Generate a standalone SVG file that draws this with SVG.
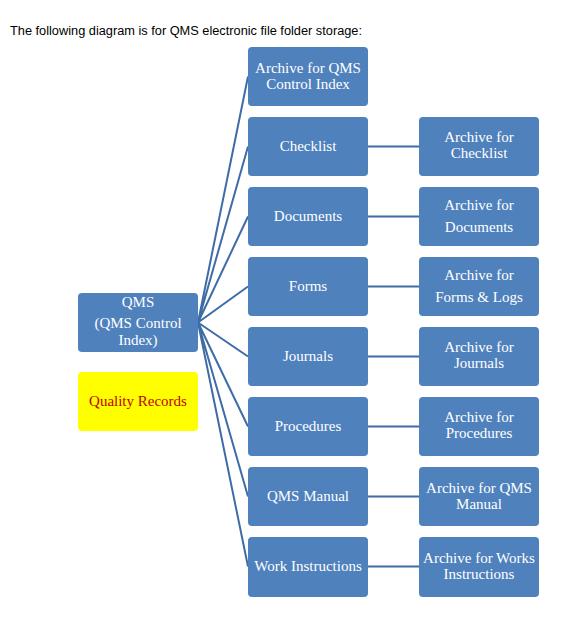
<svg xmlns="http://www.w3.org/2000/svg" width="570" height="626" viewBox="0 0 570 626">
<style>
.box{fill:#4F81BD;}
.qr{fill:#FFFF00;}
.t{font-family:"Liberation Serif","DejaVu Serif",serif;font-size:15px;fill:#FFFFFF;text-anchor:middle;}
.tr{font-family:"Liberation Serif","DejaVu Serif",serif;font-size:15px;fill:#C00000;text-anchor:middle;}
.title{font-family:"Liberation Sans","Open Sans",sans-serif;font-size:12.5px;fill:#000000;}
.c{stroke:#3D6CA6;stroke-width:2;fill:none;}
</style>
<rect width="570" height="626" fill="#FFFFFF"/>
<text class="title" x="10" y="35" textLength="352" lengthAdjust="spacingAndGlyphs">The following diagram is for QMS electronic file folder storage:</text>
<g id="connectors">
<path class="c" d="M198,322.5 L248,76.5 M198,322.5 L248,146.5 M198,322.5 L248,216.5 M198,322.5 L248,286.5 M198,322.5 L248,356.5 M198,322.5 L248,426.5 M198,322.5 L248,496.5 M198,322.5 L248,566.5"/>
<path class="c" d="M368,146.5 H419 M368,216.5 H419 M368,286.5 H419 M368,356.5 H419 M368,426.5 H419 M368,496.5 H419 M368,566.5 H419"/>
</g>
<g id="qms"><rect class="box" x="78" y="293" width="120" height="59" rx="4"/>
<text class="t" x="138" y="307">QMS</text><text class="t" x="138" y="328">(QMS Control</text><text class="t" x="138" y="345">Index)</text></g>
<g id="quality-records"><rect class="qr" x="78" y="372" width="120" height="59" rx="4"/>
<text class="tr" x="138" y="406">Quality Records</text></g>
<g id="archive-qms-control-index"><rect class="box" x="248" y="47" width="120" height="59" rx="4"/>
<text class="t" x="308" y="73">Archive for QMS</text><text class="t" x="308" y="89">Control Index</text></g>
<g id="checklist"><rect class="box" x="248" y="117" width="120" height="59" rx="4"/>
<text class="t" x="308" y="151">Checklist</text></g>
<g id="documents"><rect class="box" x="248" y="187" width="120" height="59" rx="4"/>
<text class="t" x="308" y="221">Documents</text></g>
<g id="forms"><rect class="box" x="248" y="257" width="120" height="59" rx="4"/>
<text class="t" x="308" y="291">Forms</text></g>
<g id="journals"><rect class="box" x="248" y="327" width="120" height="59" rx="4"/>
<text class="t" x="308" y="361">Journals</text></g>
<g id="procedures"><rect class="box" x="248" y="397" width="120" height="59" rx="4"/>
<text class="t" x="308" y="431">Procedures</text></g>
<g id="qms-manual"><rect class="box" x="248" y="467" width="120" height="59" rx="4"/>
<text class="t" x="308" y="501">QMS Manual</text></g>
<g id="work-instructions"><rect class="box" x="248" y="537" width="120" height="60" rx="4"/>
<text class="t" x="308" y="571">Work Instructions</text></g>
<g id="archive-checklist"><rect class="box" x="419" y="117" width="120" height="59" rx="4"/>
<text class="t" x="479" y="142">Archive for</text><text class="t" x="479" y="158">Checklist</text></g>
<g id="archive-documents"><rect class="box" x="419" y="187" width="120" height="59" rx="4"/>
<text class="t" x="479" y="210">Archive for</text><text class="t" x="479" y="232">Documents</text></g>
<g id="archive-forms"><rect class="box" x="419" y="257" width="120" height="59" rx="4"/>
<text class="t" x="479" y="280">Archive for</text><text class="t" x="479" y="302">Forms &amp; Logs</text></g>
<g id="archive-journals"><rect class="box" x="419" y="327" width="120" height="59" rx="4"/>
<text class="t" x="479" y="352">Archive for</text><text class="t" x="479" y="368">Journals</text></g>
<g id="archive-procedures"><rect class="box" x="419" y="397" width="120" height="59" rx="4"/>
<text class="t" x="479" y="422">Archive for</text><text class="t" x="479" y="438">Procedures</text></g>
<g id="archive-qms-manual"><rect class="box" x="419" y="467" width="120" height="59" rx="4"/>
<text class="t" x="479" y="493">Archive for QMS</text><text class="t" x="479" y="509">Manual</text></g>
<g id="archive-work-instructions"><rect class="box" x="419" y="537" width="120" height="60" rx="4"/>
<text class="t" x="479" y="563">Archive for Works</text><text class="t" x="479" y="579">Instructions</text></g>
</svg>
